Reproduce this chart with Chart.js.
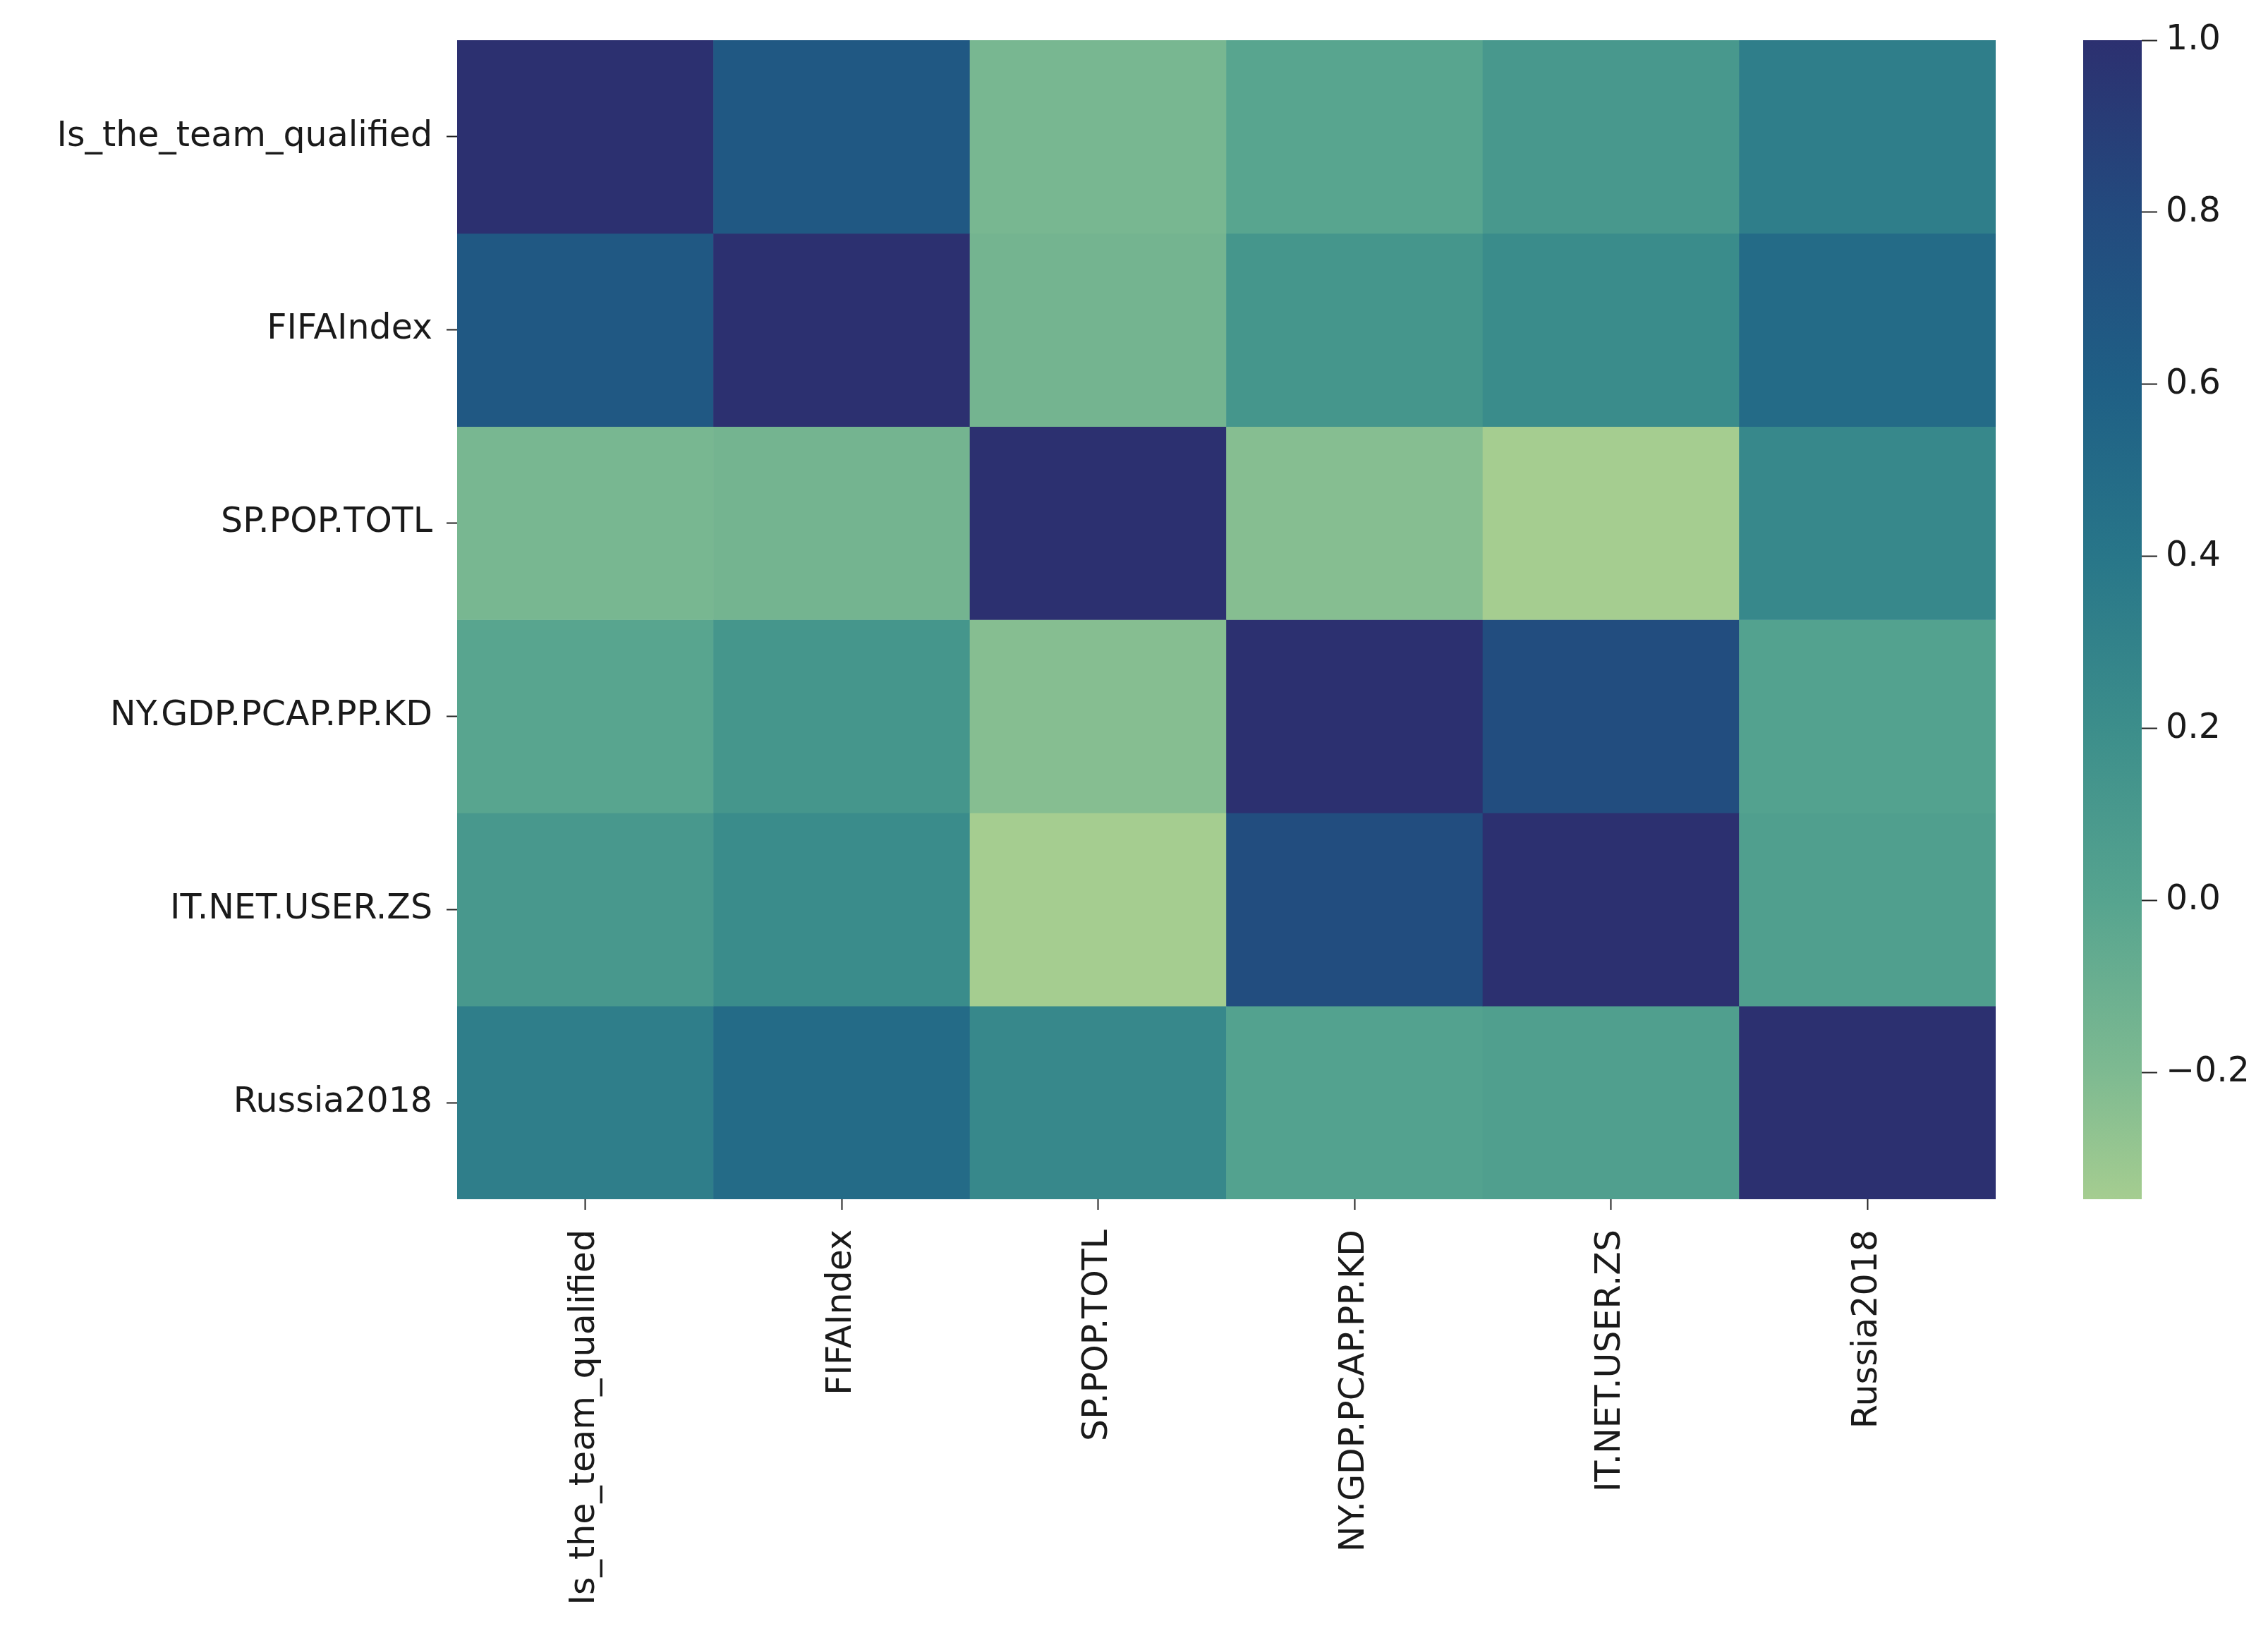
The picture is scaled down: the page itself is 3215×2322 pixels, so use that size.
<!DOCTYPE html>
<html>
<head>
<meta charset="utf-8">
<script src="https://cdn.jsdelivr.net/npm/chart.js@4.4.1/dist/chart.umd.min.js"></script>
<style>
  html, body { margin: 0; padding: 0; background: #fff; }
  #wrap { position: relative; width: 3215px; height: 2322px; }
  canvas { position: absolute; top: 0; }
</style>
</head>
<body>
<div id="wrap">
  <canvas id="heat" width="2900" height="2322" style="left:0"></canvas>
  <canvas id="cbar" width="315" height="2322" style="left:2900px"></canvas>
</div>
<script>
// variables (rows and columns of the correlation matrix)
const variables = ["Is_the_team_qualified", "FIFAIndex", "SP.POP.TOTL", "NY.GDP.PCAP.PP.KD", "IT.NET.USER.ZS", "Russia2018"];

// one row of correlations per variable
const corrQualified = [1.00, 0.67, -0.17, -0.01, 0.11, 0.33];
const corrFifa      = [0.67, 1.00, -0.15, 0.13, 0.22, 0.50];
const corrPop       = [-0.17, -0.15, 1.00, -0.23, -0.347, 0.25];
const corrGdp       = [-0.01, 0.13, -0.23, 1.00, 0.77, 0.02];
const corrNet       = [0.11, 0.22, -0.347, 0.77, 1.00, 0.05];
const corrRussia    = [0.33, 0.50, 0.25, 0.02, 0.05, 1.00];

const colorbarTicks = [-0.2, 0.0, 0.2, 0.4, 0.6, 0.8, 1.0];
const colorbarTickLabels = ["\u22120.2", "0.0", "0.2", "0.4", "0.6", "0.8", "1.0"];

const matrix = [corrQualified, corrFifa, corrPop, corrGdp, corrNet, corrRussia];
const N = variables.length;
const vmin = Math.min(...matrix.flat());
const vmax = Math.max(...matrix.flat());

// approximation of seaborn "crest"
const crestStops = [
  [0.000, 165, 205, 144],
  [0.109, 126, 186, 145],
  [0.258, 86, 164, 143],
  [0.406, 60, 142, 139],
  [0.555, 40, 118, 137],
  [0.703, 31, 95, 133],
  [0.852, 35, 74, 126],
  [1.000, 44, 48, 112],
];

function crest(t) {
  t = Math.max(0, Math.min(1, t));
  for (let i = 1; i < crestStops.length; i++) {
    const a = crestStops[i - 1], b = crestStops[i];
    if (t <= b[0]) {
      const f = (t - a[0]) / (b[0] - a[0]);
      const c = [1, 2, 3].map(k => Math.round(a[k] + f * (b[k] - a[k])));
      return `rgb(${c[0]},${c[1]},${c[2]})`;
    }
  }
  return "rgb(44,48,112)";
}

const colorFor = v => crest((v - vmin) / (vmax - vmin));

const FONT = { family: "'DejaVu Sans', sans-serif", size: 49 };
const TEXT = "#1a1a1a";

const heatDatasets = matrix.map((row, i) => ({
  label: variables[i],
  data: row.map(() => [N - 1 - i, N - i]),
  backgroundColor: row.map(colorFor),
  borderWidth: 0,
  barPercentage: 1,
  categoryPercentage: 1,
  grouped: false,
}));

new Chart(document.getElementById("heat"), {
  type: "bar",
  data: { labels: variables, datasets: heatDatasets },
  options: {
    responsive: false,
    devicePixelRatio: 1,
    animation: false,
    layout: { padding: { top: 57, right: 71, left: 0, bottom: 0 } },
    plugins: { legend: { display: false }, tooltip: { enabled: false } },
    scales: {
      x: {
        type: "category",
        grid: { offset: false, drawOnChartArea: false, drawTicks: true, tickLength: 15, tickColor: "#222", tickWidth: 2 },
        border: { display: false },
        ticks: { font: FONT, color: TEXT, maxRotation: 90, minRotation: 90, padding: 28, autoSkip: false },
        afterFit: s => { s.height = 622; },
      },
      y: {
        type: "linear",
        min: 0,
        max: N,
        grid: { drawOnChartArea: false, drawTicks: true, tickLength: 15, tickColor: "#222", tickWidth: 2 },
        border: { display: false },
        afterBuildTicks: s => { s.ticks = variables.map((_, i) => ({ value: N - 0.5 - i })); },
        ticks: {
          font: FONT, color: TEXT, padding: 20, autoSkip: false,
          callback: v => variables[Math.round(N - 0.5 - v)],
        },
        afterFit: s => { s.width = 648; },
      },
    },
  },
});

new Chart(document.getElementById("cbar"), {
  type: "bar",
  data: {
    labels: [""],
    datasets: [{
      data: [[vmin, vmax]],
      borderWidth: 0,
      barPercentage: 1,
      categoryPercentage: 1,
      backgroundColor: ctx => {
        const chart = ctx.chart;
        const y = chart.scales.y;
        if (!chart.chartArea || !y) return "#888";
        const g = chart.ctx.createLinearGradient(0, y.getPixelForValue(vmin), 0, y.getPixelForValue(vmax));
        crestStops.forEach(s => g.addColorStop(s[0], `rgb(${s[1]},${s[2]},${s[3]})`));
        return g;
      },
    }],
  },
  options: {
    responsive: false,
    devicePixelRatio: 1,
    animation: false,
    layout: { padding: { top: 57, left: 53, right: 0, bottom: 622 } },
    plugins: { legend: { display: false }, tooltip: { enabled: false } },
    scales: {
      x: { display: false },
      y: {
        type: "linear",
        position: "right",
        min: vmin,
        max: vmax,
        grid: { drawOnChartArea: false, drawTicks: true, tickLength: 22, tickColor: "#222", tickWidth: 2 },
        border: { display: false },
        afterBuildTicks: s => { s.ticks = colorbarTicks.map(v => ({ value: v })); },
        ticks: {
          font: FONT, color: TEXT, padding: 12, autoSkip: false,
          callback: (v, i) => colorbarTickLabels[i],
        },
        afterFit: s => { s.width = 179; },
      },
    },
  },
});
</script>
</body>
</html>
